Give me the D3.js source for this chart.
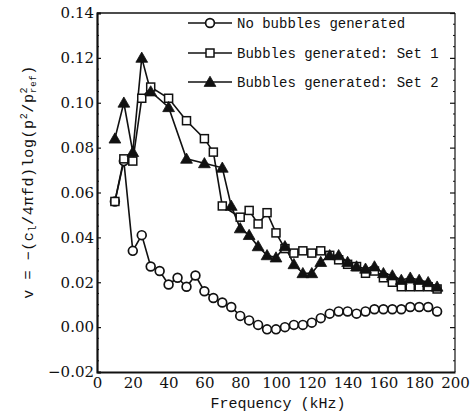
<!DOCTYPE html>
<html>
<head>
<meta charset="utf-8">
<script src="https://cdn.jsdelivr.net/npm/d3@7"></script>
<style>
  html, body { margin: 0; padding: 0; background: #fff; }
  svg { display: block; }
  text { fill: #111; }
</style>
</head>
<body>
<svg id="chart" width="475" height="415"></svg>
<script>
// Attenuation-type quantity v versus frequency, three measurement conditions
const freqNoBubbles = [10,15,20,25,30,35,40,45,50,55,60,65,70,75,80,85,90,95,100,105,110,115,120,125,130,135,140,145,150,155,160,165,170,175,180,185,190];
const valNoBubbles  = [0.056,0.074,0.034,0.041,0.027,0.025,0.019,0.022,0.018,0.023,0.016,0.013,0.011,0.009,0.005,0.003,0.001,-0.001,-0.001,0.000,0.001,0.001,0.002,0.004,0.006,0.007,0.007,0.006,0.007,0.008,0.008,0.008,0.008,0.009,0.009,0.009,0.007];

const freqSet1 = [10,15,20,25,30,40,50,60,65,70,80,85,90,95,100,105,110,115,120,125,130,135,140,145,150,155,160,165,170,175,180,185,190];
const valSet1  = [0.056,0.075,0.074,0.102,0.107,0.102,0.092,0.084,0.078,0.054,0.049,0.052,0.046,0.051,0.042,0.035,0.033,0.034,0.033,0.034,0.032,0.030,0.028,0.027,0.024,0.025,0.022,0.020,0.018,0.018,0.018,0.018,0.017];

const freqSet2 = [10,15,20,25,30,40,50,60,70,75,80,85,90,95,100,105,110,115,120,125,130,135,140,145,150,155,160,165,170,175,180,185,190];
const valSet2  = [0.084,0.100,0.078,0.120,0.105,0.098,0.075,0.073,0.071,0.054,0.044,0.041,0.036,0.032,0.031,0.036,0.028,0.024,0.024,0.029,0.032,0.032,0.029,0.027,0.026,0.027,0.024,0.023,0.021,0.022,0.021,0.020,0.018];

const seriesNames = ["No bubbles generated", "Bubbles generated: Set 1", "Bubbles generated: Set 2"];
const xTicks = [0,20,40,60,80,100,120,140,160,180,200];
const yTicks = [-0.02,0.00,0.02,0.04,0.06,0.08,0.10,0.12,0.14];

(function () {
  const series = [
    { name: seriesNames[0], x: freqNoBubbles, y: valNoBubbles, shape: "circle" },
    { name: seriesNames[1], x: freqSet1, y: valSet1, shape: "square" },
    { name: seriesNames[2], x: freqSet2, y: valSet2, shape: "triangle" }
  ];

  const svg = d3.select("#chart");
  const pL = 97, pR = 455, pT = 13, pB = 372;
  const x = d3.scaleLinear().domain([0, 200]).range([pL, pR]);
  const y = d3.scaleLinear().domain([-0.02, 0.14]).range([pB, pT]);

  const ink = "#111";
  const numFont = "'DejaVu Serif', 'Liberation Serif', serif";
  const textFont = "'Liberation Mono', 'DejaVu Sans Mono', monospace";

  // Plot frame
  svg.append("line").attr("x1", pL).attr("x2", pR).attr("y1", pT).attr("y2", pT)
    .attr("stroke", ink).attr("stroke-width", 1.6);
  svg.append("line").attr("x1", pR).attr("x2", pR).attr("y1", pT).attr("y2", pB)
    .attr("stroke", ink).attr("stroke-width", 1.2);

  // Left axis: inward ticks with minor subdivisions
  const yAxisL = d3.axisRight(y).tickValues(yTicks).tickSize(4).tickFormat("");
  const gL = svg.append("g").attr("transform", `translate(${pL},0)`).call(yAxisL);
  gL.select(".domain").attr("stroke", ink).attr("stroke-width", 2.2);
  gL.selectAll(".tick line").attr("stroke", ink).attr("stroke-width", 1.2);

  const minorY = d3.range(-0.015, 0.14, 0.005).filter(v => Math.abs(Math.round(v * 50) - v * 50) > 1e-6);
  svg.append("g").selectAll("line").data(minorY).join("line")
    .attr("x1", pL).attr("x2", pL + 2).attr("y1", d => y(d)).attr("y2", d => y(d))
    .attr("stroke", ink).attr("stroke-width", 1);

  // Right axis: inward ticks
  const yAxisR = d3.axisLeft(y).tickValues(yTicks).tickSize(5).tickFormat("");
  const gR = svg.append("g").attr("transform", `translate(${pR},0)`).call(yAxisR);
  gR.select(".domain").remove();
  gR.selectAll(".tick line").attr("stroke", ink).attr("stroke-width", 1.2);
  svg.append("g").selectAll("line").data(minorY).join("line")
    .attr("x1", pR).attr("x2", pR - 2).attr("y1", d => y(d)).attr("y2", d => y(d))
    .attr("stroke", ink).attr("stroke-width", 1);

  // Y tick labels
  svg.append("g").selectAll("text").data(yTicks).join("text")
    .attr("x", pL - 3).attr("y", d => y(d)).attr("dy", "0.35em")
    .attr("text-anchor", "end")
    .style("font-family", numFont).style("font-size", "15px")
    .text(d => d3.format(".2f")(d).replace("-", "\u2212"));

  // Bottom axis
  const xAxis = d3.axisBottom(x).tickValues(xTicks).tickSize(0).tickPadding(5).tickFormat(d3.format("d"));
  const gB = svg.append("g").attr("transform", `translate(0,${pB})`).call(xAxis);
  gB.select(".domain").attr("stroke", ink).attr("stroke-width", 2.2);
  gB.selectAll("text").style("font-family", numFont).style("font-size", "15px").attr("fill", ink);

  // Axis titles
  svg.append("text")
    .attr("x", 278).attr("y", 408)
    .attr("text-anchor", "middle")
    .style("font-family", textFont).style("font-size", "15px")
    .text("Frequency (kHz)");

  const yt = svg.append("text")
    .attr("transform", `translate(33,182) rotate(-90)`)
    .attr("text-anchor", "middle")
    .style("font-family", textFont).style("font-size", "15px")
    .style("letter-spacing", "0.6px");
  yt.append("tspan").text("v = \u2212(c");
  yt.append("tspan").attr("dy", 3).style("font-size", "10px").text("l");
  yt.append("tspan").attr("dy", -3).text("/4\u03c0fd)log(p");
  yt.append("tspan").attr("dy", -6).style("font-size", "10px").text("2");
  yt.append("tspan").attr("dy", 6).text("/p");
  yt.append("tspan").attr("dy", -6).style("font-size", "10px").text("2");
  yt.append("tspan").attr("dy", 9).attr("dx", -6).style("font-size", "9px").text("ref");
  yt.append("tspan").attr("dy", -3).text(")");

  // Marker drawing
  function drawMarker(g, shape, cx, cy) {
    if (shape === "circle") {
      g.append("circle").attr("cx", cx).attr("cy", cy).attr("r", 4.4)
        .attr("fill", "#fff").attr("stroke", ink).attr("stroke-width", 1.7);
    } else if (shape === "square") {
      g.append("rect").attr("x", cx - 4).attr("y", cy - 4).attr("width", 8).attr("height", 8)
        .attr("fill", "#fff").attr("stroke", ink).attr("stroke-width", 1.5);
    } else {
      const sym = d3.symbol().type(d3.symbolTriangle).size(60);
      g.append("path").attr("d", sym()).attr("transform", `translate(${cx},${cy + 1})`)
        .attr("fill", ink).attr("stroke", ink).attr("stroke-width", 0.8);
    }
  }

  const line = d3.line().x(d => x(d[0])).y(d => y(d[1]));

  series.forEach(s => {
    const pts = s.x.map((f, i) => [f, s.y[i]]);
    svg.append("path").datum(pts).attr("d", line)
      .attr("fill", "none").attr("stroke", ink).attr("stroke-width", 1.6);
  });
  series.forEach(s => {
    const g = svg.append("g");
    s.x.forEach((f, i) => drawMarker(g, s.shape, x(f), y(s.y[i])));
  });

  // Legend
  const legY = [23, 53, 82];
  series.forEach((s, i) => {
    const g = svg.append("g");
    g.append("line").attr("x1", 188).attr("x2", 232).attr("y1", legY[i]).attr("y2", legY[i])
      .attr("stroke", ink).attr("stroke-width", 1.6);
    drawMarker(g, s.shape, 210, legY[i]);
    g.append("text").attr("x", 237).attr("y", legY[i]).attr("dy", "0.35em")
      .style("font-family", textFont).style("font-size", "14px")
      .text(s.name);
  });
})();
</script>
</body>
</html>
